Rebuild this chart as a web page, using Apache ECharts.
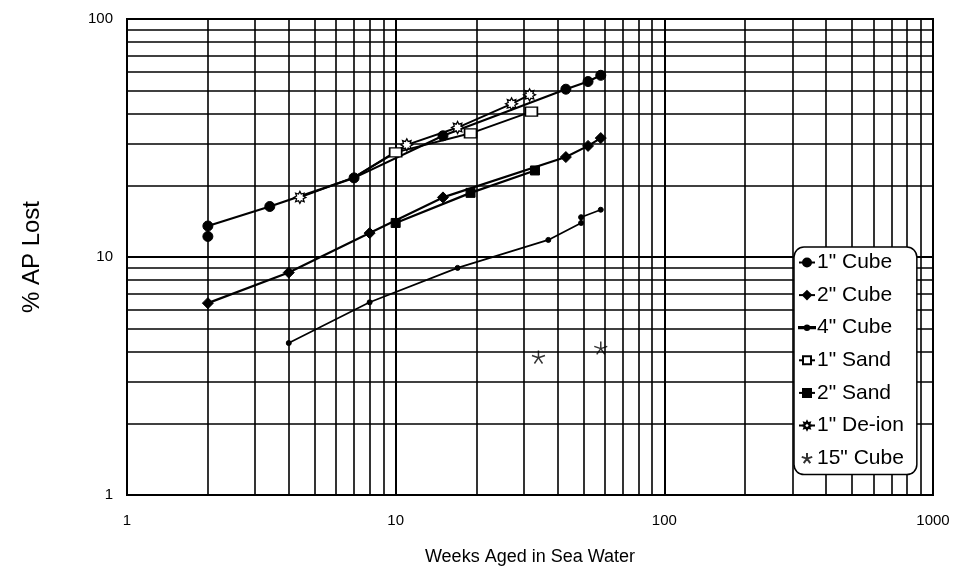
<!DOCTYPE html>
<html>
<head>
<meta charset="utf-8">
<script src="https://cdn.jsdelivr.net/npm/echarts@6/dist/echarts.min.js"></script>
<style>
html,body{margin:0;padding:0;background:#fff;}
#c{width:956px;height:571px;}
</style>
</head>
<body>
<div id="c"></div>
<script>
// ---- data (x = weeks aged, y = % AP lost) ----
const seriesNames = ['1" Cube', '2" Cube', '4" Cube', '1" Sand', '2" Sand', '1" De-ion', '15" Cube'];
const cube1 = [[2, 12.2], [2, 13.5], [3.4, 16.3], [7, 21.5], [15, 32.3], [43, 50.7], [52, 54.6], [58, 58]];
const cube2 = [[2, 6.4], [4, 8.6], [8, 12.6], [15, 17.8], [43, 26.3], [52, 29.3], [58, 31.6]];
const cube4 = [[4, 4.35], [8, 6.45], [17, 9.0], [37, 11.8], [49, 13.9], [49, 14.7], [58, 15.8]];
const sand1 = [[7, 21.6], [10, 27.5], [19, 33.1], [32, 40.8]];
const sand2 = [[10, 13.9], [19, 18.6], [33, 23.1]];
const deion1 = [[4.4, 17.8], [7, 21.6], [11, 29.6], [17, 35], [27, 44], [31.5, 48]];
const cube15 = [[34, 3.8], [58, 4.15]];
// tick labels / gridline values
const xTicks = [1, 10, 100, 1000];
const yTicks = [1, 10, 100];
const xMinorGrid = [2, 3, 4, 5, 6, 7, 8, 9, 20, 30, 40, 50, 60, 70, 80, 90, 200, 300, 400, 500, 600, 700, 800, 900];
const yMinorGrid = [2, 3, 4, 5, 6, 7, 8, 9, 20, 30, 40, 50, 60, 70, 80, 90];

// ---- symbols ----
function starburst(n, rO, rI) {
  let p = [];
  for (let i = 0; i < 2 * n; i++) {
    const r = i % 2 === 0 ? rO : rI;
    const a = Math.PI * i / n - Math.PI / 2;
    p.push((10 + r * Math.cos(a)).toFixed(2) + ',' + (10 + r * Math.sin(a)).toFixed(2));
  }
  return 'path://M' + p.join('L') + 'Z';
}
const deionSymbol = starburst(8, 10, 6);
const asteriskSymbol = 'path://M10,10L10,0M10,10L19.5,6.9M10,10L15.9,18.1M10,10L4.1,18.1M10,10L0.5,6.9';
// legend icon for the small-dot series: line with a small dot (16x10 box)
const smallDotLegendIcon = 'path://M0,0L0,0Z M16,10L16,10Z M0,4.4L16,4.4L16,5.6L0,5.6Z M10.2,5A2.2,2.2 0 1,1 5.8,5A2.2,2.2 0 1,1 10.2,5Z';

const FONT = '"Liberation Sans", Arial, sans-serif';
const chart = echarts.init(document.getElementById('c'), null, {renderer: 'canvas'});

function lineSeries(name, data, symbol, size, opts) {
  return Object.assign({
    name: name,
    type: 'line',
    data: data,
    symbol: symbol,
    symbolSize: size,
    showSymbol: true,
    lineStyle: {color: '#000', width: 2.2},
    itemStyle: {color: '#000', borderColor: '#000', borderWidth: 1},
    z: 5,
    animation: false
  }, opts || {});
}
// series that start on a shared 1" Cube point: no separate marker at the shared point
const hideAt = (arr, x) => arr.map(p => p[0] === x ? {value: p, symbol: 'none'} : p);

const option = {
  backgroundColor: '#fff',
  animation: false,
  grid: {left: 127, right: 23, top: 19, bottom: 76, show: true, borderColor: '#000', borderWidth: 2, backgroundColor: 'transparent'},
  xAxis: {
    type: 'log', logBase: 10, min: 1, max: 1000,
    name: 'Weeks Aged in Sea Water', nameLocation: 'middle', nameGap: 53,
    nameTextStyle: {fontFamily: FONT, fontSize: 18, color: '#000'},
    axisLine: {show: true, lineStyle: {color: '#000', width: 2}},
    axisTick: {show: false},
    axisLabel: {fontFamily: FONT, fontSize: 15, color: '#000', margin: 18,
      formatter: v => xTicks.indexOf(Math.round(v)) >= 0 ? String(Math.round(v)) : ''},
    splitLine: {show: true, lineStyle: {color: '#000', width: 2}}
  },
  yAxis: {
    type: 'log', logBase: 10, min: 1, max: 100,
    name: '% AP Lost', nameLocation: 'middle', nameGap: 83, nameRotate: 90,
    nameTextStyle: {fontFamily: FONT, fontSize: 24, color: '#000'},
    axisLine: {show: true, lineStyle: {color: '#000', width: 2}},
    axisTick: {show: false},
    axisLabel: {fontFamily: FONT, fontSize: 15, color: '#000', margin: 14,
      formatter: v => yTicks.indexOf(Math.round(v)) >= 0 ? String(Math.round(v)) : ''},
    splitLine: {show: true, lineStyle: {color: '#000', width: 2}}
  },
  legend: {
    data: seriesNames.map(n => n === seriesNames[2] ? {name: n, icon: smallDotLegendIcon} : {name: n}),
    orient: 'vertical',
    left: 794, top: 247,
    padding: [5, 13, 6, 4],
    itemGap: 11.6,
    itemWidth: 16, itemHeight: 10,
    backgroundColor: '#fff',
    borderColor: '#000', borderWidth: 1.5, borderRadius: 10,
    textStyle: {fontFamily: FONT, fontSize: 21, color: '#000', padding: [0, 0, 0, -3]},
    selectedMode: false,
    z: 20
  },
  series: [
    {
      name: 'grid', type: 'line', data: [], silent: true, z: 1, animation: false,
      markLine: {
        silent: true, symbol: 'none', animation: false,
        label: {show: false},
        lineStyle: {color: '#000', width: 1.6, type: 'solid'},
        emphasis: {disabled: true},
        data: xMinorGrid.map(v => ({xAxis: v})).concat(yMinorGrid.map(v => ({yAxis: v})))
      }
    },
    lineSeries(seriesNames[0], cube1, 'circle', 10),
    lineSeries(seriesNames[1], cube2, 'diamond', 11),
    lineSeries(seriesNames[2], cube4, 'circle', 5, {lineStyle: {color: '#000', width: 1.7}}),
    lineSeries(seriesNames[3], hideAt(sand1, 7), 'rect', [12, 9], {itemStyle: {color: '#fff', borderColor: '#000', borderWidth: 1.5}, lineStyle: {color: '#000', width: 1.9}}),
    lineSeries(seriesNames[4], sand2, 'rect', 9),
    lineSeries(seriesNames[5], hideAt(deion1, 7), deionSymbol, 12, {itemStyle: {color: '#fff', borderColor: '#000', borderWidth: 1.3}, lineStyle: {color: '#000', width: 1.9}}),
    {
      name: seriesNames[6], type: 'scatter', data: cube15,
      symbol: asteriskSymbol, symbolSize: 13,
      itemStyle: {color: 'rgba(0,0,0,0)', borderColor: '#000', borderWidth: 1.5},
      z: 5, animation: false
    }
  ]
};
chart.setOption(option);
</script>
</body>
</html>
